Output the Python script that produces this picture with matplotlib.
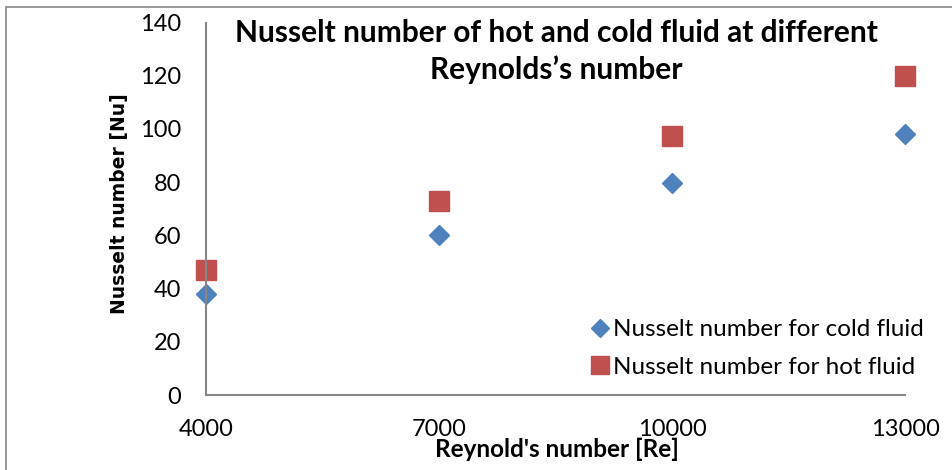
import matplotlib
matplotlib.use('Agg')
import matplotlib.pyplot as plt
from matplotlib.patches import Rectangle

plt.rcParams['font.family'] = ['Lato', 'DejaVu Sans']

# data
reynolds = [4000, 7000, 10000, 13000]
nu_cold = [38, 60, 79.5, 98]
nu_hot = [47, 73, 97.5, 120]
xticks = [4000, 7000, 10000, 13000]
yticks = [0, 20, 40, 60, 80, 100, 120, 140]

fig = plt.figure(figsize=(9.53, 4.70), dpi=100)
ax = fig.add_axes([206/953, 1-395/470, (905-206)/953, (395-22.5)/470])

ax.plot(reynolds, nu_cold, 'D', color='#4F81BD', ms=10, mec='#4F81BD',
        label='Nusselt number for cold fluid', clip_on=False)
ax.plot(reynolds, nu_hot, 's', color='#C0504D', ms=14, mec='#C0504D',
        label='Nusselt number for hot fluid', clip_on=False)

ax.set_xlim(4000, 13000)
ax.set_ylim(0, 140)
ax.set_xticks(xticks)
ax.set_yticks(yticks)
ax.tick_params(length=0, labelsize=17, colors='black')
ax.tick_params(axis='x', pad=17.5)
ax.tick_params(axis='y', pad=18)
for s in ['top', 'right']:
    ax.spines[s].set_visible(False)
for s in ['left', 'bottom']:
    ax.spines[s].set_color('#868686')
    ax.spines[s].set_linewidth(1.5)

fig.text(556/953, 1-51.5/470,
         'Nusselt number of hot and cold fluid at different\nReynolds\u2019s number',
         ha='center', va='center', fontsize=21.5, fontweight='bold', linespacing=1.33)
fig.text(557/953, 1-449/470, "Reynold's number [Re]", ha='center', va='center',
         fontsize=17.5, fontweight='bold')
fig.text(120/953, 1-204/470, 'Nusselt number [Nu]', ha='center', va='center',
         rotation=90, fontsize=13.5, fontweight='bold', family='DejaVu Sans')

fig.legend(loc='center left', bbox_to_anchor=(591/953, 1-348.5/470), frameon=False,
           fontsize=17.5, handlelength=0.75, handletextpad=0.16, labelspacing=0.67,
           borderpad=0, borderaxespad=0, markerscale=0.9)

fig.add_artist(Rectangle((6/953, -0.1), 1.2, 1.1-7/470, transform=fig.transFigure,
                         fill=False, edgecolor='#868686', lw=1.2))

fig.savefig('out.png', dpi=100)
